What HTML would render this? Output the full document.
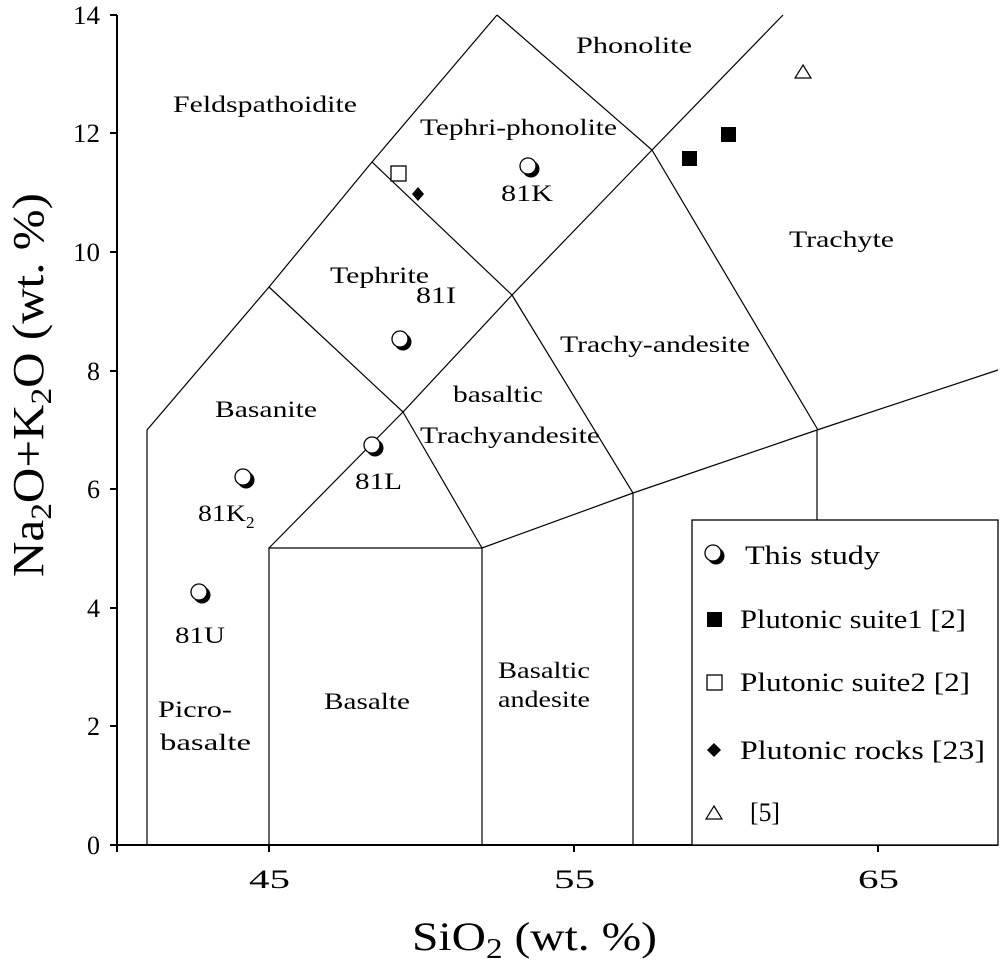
<!DOCTYPE html>
<html><head><meta charset="utf-8"><style>
html,body{margin:0;padding:0;background:#fff;}
svg{display:block;font-family:"Liberation Serif",serif;}
</style></head><body>
<svg width="1000" height="961" viewBox="0 0 1000 961" xmlns="http://www.w3.org/2000/svg">
<defs>
<g id="m"><circle cx="3" cy="3" r="8.5" fill="#000"/><circle cx="0" cy="0" r="8" fill="#fff" stroke="#000" stroke-width="1.3"/></g>
</defs>
<g fill="none" stroke="#000" stroke-width="1.2">
<polyline points="147,845 147,430 269,287 372,162 497,15"/>
<polyline points="497,15 652,150 818,430"/>
<line x1="652" y1="150" x2="783" y2="15"/>
<polyline points="372,162 512,295 652,150"/>
<polyline points="269,287 403,412 512,295"/>
<polyline points="403,412 482,548"/>
<polyline points="269,548 403,412"/>
<polyline points="269,845 269,548 482,548 482,845"/>
<polyline points="512,295 633,493 633,845"/>
<polyline points="482,548 633,493 817,430 998,370"/>
<line x1="817" y1="430" x2="817" y2="520"/>
</g>
<g stroke="#000" stroke-width="2">
<line x1="117" y1="15" x2="117" y2="852"/>
<line x1="110" y1="845" x2="998" y2="845"/>
<line x1="110" y1="15" x2="117" y2="15"/>
<line x1="110" y1="133" x2="117" y2="133"/>
<line x1="110" y1="252" x2="117" y2="252"/>
<line x1="110" y1="371" x2="117" y2="371"/>
<line x1="110" y1="489" x2="117" y2="489"/>
<line x1="110" y1="608" x2="117" y2="608"/>
<line x1="110" y1="726" x2="117" y2="726"/>
<line x1="269" y1="845" x2="269" y2="852"/>
<line x1="574" y1="845" x2="574" y2="852"/>
<line x1="878" y1="845" x2="878" y2="852"/>
</g>
<g font-size="26">
<text x="73" y="24" textLength="27" lengthAdjust="spacingAndGlyphs">14</text>
<text x="73" y="142" textLength="27" lengthAdjust="spacingAndGlyphs">12</text>
<text x="73" y="261" textLength="27" lengthAdjust="spacingAndGlyphs">10</text>
</g>
<g font-size="26" text-anchor="end">
<text x="100" y="380">8</text><text x="100" y="498">6</text><text x="100" y="617">4</text>
<text x="100" y="735">2</text><text x="100" y="854">0</text>
</g>
<g font-size="26">
<text x="249" y="888" textLength="41" lengthAdjust="spacingAndGlyphs">45</text>
<text x="554" y="888" textLength="41" lengthAdjust="spacingAndGlyphs">55</text>
<text x="858" y="888" textLength="41" lengthAdjust="spacingAndGlyphs">65</text>
</g>
<text x="412" y="950" font-size="40" textLength="245" lengthAdjust="spacingAndGlyphs">SiO<tspan font-size="28" dy="8">2</tspan><tspan dy="-8"> (wt. %)</tspan></text>
<text transform="translate(43,577) rotate(-90)" font-size="44" textLength="384" lengthAdjust="spacingAndGlyphs">Na<tspan font-size="30" dy="8">2</tspan><tspan dy="-8">O+K</tspan><tspan font-size="30" dy="8">2</tspan><tspan dy="-8">O (wt. %)</tspan></text>
<g font-size="23">
<text x="173" y="112" textLength="184" lengthAdjust="spacingAndGlyphs">Feldspathoidite</text>
<text x="576" y="53" textLength="116" lengthAdjust="spacingAndGlyphs">Phonolite</text>
<text x="420" y="135" textLength="197" lengthAdjust="spacingAndGlyphs">Tephri-phonolite</text>
<text x="789" y="247" textLength="105" lengthAdjust="spacingAndGlyphs">Trachyte</text>
<text x="330" y="283" textLength="99" lengthAdjust="spacingAndGlyphs">Tephrite</text>
<text x="560" y="352" textLength="190" lengthAdjust="spacingAndGlyphs">Trachy-andesite</text>
<text x="453" y="402" textLength="90" lengthAdjust="spacingAndGlyphs">basaltic</text>
<text x="420" y="443" textLength="180" lengthAdjust="spacingAndGlyphs">Trachyandesite</text>
<text x="215" y="417" textLength="102" lengthAdjust="spacingAndGlyphs">Basanite</text>
<text x="324" y="709" textLength="86" lengthAdjust="spacingAndGlyphs">Basalte</text>
<text x="498" y="678" textLength="92" lengthAdjust="spacingAndGlyphs">Basaltic</text>
<text x="498" y="707" textLength="92" lengthAdjust="spacingAndGlyphs">andesite</text>
<text x="158" y="717" textLength="74" lengthAdjust="spacingAndGlyphs">Picro-</text>
<text x="160" y="750" textLength="91" lengthAdjust="spacingAndGlyphs">basalte</text>
<text x="501" y="201" textLength="52" lengthAdjust="spacingAndGlyphs">81K</text>
<text x="416" y="303" textLength="40" lengthAdjust="spacingAndGlyphs">81I</text>
<text x="355" y="489" textLength="47" lengthAdjust="spacingAndGlyphs">81L</text>
<text x="198" y="521" textLength="48" lengthAdjust="spacingAndGlyphs">81K</text><text x="246" y="528" font-size="17">2</text>
<text x="175" y="643" textLength="50" lengthAdjust="spacingAndGlyphs">81U</text>
</g>
<use href="#m" x="528" y="166"/>
<use href="#m" x="400" y="339"/>
<use href="#m" x="372" y="445"/>
<use href="#m" x="243" y="477"/>
<use href="#m" x="199" y="592"/>
<rect x="391" y="166" width="15" height="15" fill="#fff" stroke="#000" stroke-width="1.3"/>
<polygon points="418,187 424,194 418,201 412,194" fill="#000"/>
<rect x="682" y="151" width="15" height="15" fill="#000"/>
<rect x="721" y="127" width="15" height="15" fill="#000"/>
<polygon points="803,65 811,78 795,78" fill="#fff" stroke="#000" stroke-width="1.2"/>
<rect x="692" y="520" width="306" height="325" fill="#fff" stroke="#000" stroke-width="1.3"/>
<use href="#m" x="713" y="553"/>
<rect x="707" y="612" width="15" height="15" fill="#000"/>
<rect x="707" y="675" width="15" height="15" fill="#fff" stroke="#000" stroke-width="1.3"/>
<polygon points="714,743 721,750 714,757 707,750" fill="#000"/>
<polygon points="714,806 722,819 706,819" fill="#fff" stroke="#000" stroke-width="1.2"/>
<g font-size="26">
<text x="745" y="564" textLength="135" lengthAdjust="spacingAndGlyphs">This study</text>
<text x="740" y="628" textLength="226" lengthAdjust="spacingAndGlyphs">Plutonic suite1 [2]</text>
<text x="740" y="691" textLength="230" lengthAdjust="spacingAndGlyphs">Plutonic suite2 [2]</text>
<text x="740" y="759" textLength="245" lengthAdjust="spacingAndGlyphs">Plutonic rocks [23]</text>
<text x="750" y="821" textLength="30" lengthAdjust="spacingAndGlyphs">[5]</text>
</g>
</svg>
</body></html>
